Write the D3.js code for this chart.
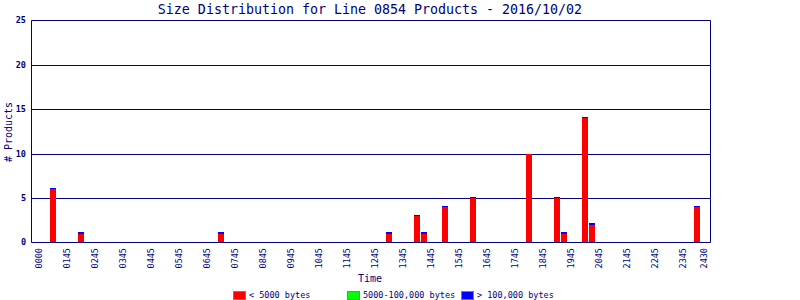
<!DOCTYPE html>
<html>
<head>
<meta charset="utf-8">
<script src="https://cdn.jsdelivr.net/npm/d3@7"></script>
<style>
  body { margin: 0; background: #fff; }
  text { font-family: "DejaVu Sans Mono", monospace; fill: #000080; }
</style>
</head>
<body>
<svg id="chart" width="800" height="300"></svg>
<script>
// 15-minute slots, 96 per day
const binCount = 96;
const barBins    = [2, 6, 26, 50, 54, 55, 58, 62, 70, 74, 75, 78, 79, 94];
const smallFiles = [6, 1, 1, 1, 3, 1, 4, 5, 10, 5, 1, 14, 2, 4];
const mediumFiles = [0, 0, 0, 0, 0, 0, 0, 0, 0, 0, 0, 0, 0, 0];
const largeFiles = [0.15, 0.15, 0.15, 0.15, 0.15, 0.15, 0.15, 0.15, 0, 0.15, 0.15, 0.15, 0.15, 0.15];

const tickBins   = [0, 4, 8, 12, 16, 20, 24, 28, 32, 36, 40, 44, 48, 52, 56, 60, 64, 68, 72, 76, 80, 84, 88, 92, 95];
const tickLabels = ["0000", "0145", "0245", "0345", "0445", "0545", "0645", "0745", "0845", "0945",
                    "1045", "1145", "1245", "1345", "1445", "1545", "1645", "1745", "1845", "1945",
                    "2045", "2145", "2245", "2345", "2430"];
const yTicks = [0, 5, 10, 15, 20, 25];

const seriesNames = ["< 5000 bytes", "5000-100,000 bytes", "> 100,000 bytes"];
const seriesColors = ["#ff0000", "#00ff00", "#0000ff"];

const navy = "#000080";
const svg = d3.select("#chart");
const plot = { left: 31.5, right: 710.5, top: 20.5, bottom: 242.5 };

const x = d3.scaleBand()
    .domain(d3.range(binCount))
    .range([36, 707])
    .paddingInner(1 / 7)
    .paddingOuter(0);

const y = d3.scaleLinear()
    .domain([0, 25])
    .range([plot.bottom, plot.top]);

// build rows for stacking
const rows = barBins.map((b, i) => ({ bin: b, small: smallFiles[i], medium: mediumFiles[i], large: largeFiles[i] }));
const stacked = d3.stack().keys(["small", "medium", "large"])(rows);

// grid lines (inner ones only, the frame draws 0 and 25)
svg.append("g")
    .selectAll("line")
    .data(yTicks.filter(d => d > 0 && d < 25))
    .join("line")
    .attr("x1", plot.left).attr("x2", plot.right)
    .attr("y1", d => Math.round(y(d)) + 0.5).attr("y2", d => Math.round(y(d)) + 0.5)
    .attr("stroke", navy).attr("stroke-width", 1);

// bars, snapped to whole pixels so the thin caps survive
const segTop = d => Math.round(y(d[1]));
const segBottom = d => Math.round(y(d[0]));
svg.append("g")
    .attr("shape-rendering", "crispEdges")
    .selectAll("g")
    .data(stacked)
    .join("g")
    .attr("fill", (d, i) => seriesColors[i])
    .selectAll("rect")
    .data(d => d.filter(s => s[1] > s[0]))
    .join("rect")
    .attr("x", d => x(d.data.bin))
    .attr("y", d => Math.min(segTop(d), segBottom(d) - 1))
    .attr("width", x.bandwidth())
    .attr("height", d => Math.max(1, segBottom(d) - segTop(d)));

// axis frame
svg.append("path")
    .attr("d", `M${plot.left},${plot.bottom}V${plot.top}H${plot.right}V${plot.bottom}H${plot.left}`)
    .attr("fill", "none").attr("stroke", navy).attr("stroke-width", 1);

// y tick labels
svg.append("g")
    .selectAll("text")
    .data(yTicks)
    .join("text")
    .attr("x", 26)
    .attr("y", d => y(d))
    .attr("dy", "0.35em")
    .attr("text-anchor", "end")
    .attr("font-size", 8.5)
    .attr("font-weight", "bold")
    .text(d => d);

// x tick labels (rotated)
svg.append("g")
    .selectAll("text")
    .data(tickBins)
    .join("text")
    .attr("transform", d => `translate(${x(d) + x.bandwidth() / 2},248) rotate(-90)`)
    .attr("dy", "0.35em")
    .attr("text-anchor", "end")
    .attr("font-size", 8.5)
    .text((d, i) => tickLabels[i]);

// title
svg.append("text")
    .attr("x", 370).attr("y", 13.5)
    .attr("text-anchor", "middle")
    .attr("font-size", 13.3)
    .text("Size Distribution for Line 0854 Products - 2016/10/02");

// axis titles
svg.append("text")
    .attr("transform", "translate(8.5,132) rotate(-90)")
    .attr("dy", "0.35em")
    .attr("text-anchor", "middle")
    .attr("font-size", 10)
    .text("# Products");

svg.append("text")
    .attr("x", 370).attr("y", 282)
    .attr("text-anchor", "middle")
    .attr("font-size", 10)
    .text("Time");

// legend
const legendX = [233, 347, 461];
const legend = svg.append("g")
    .selectAll("g")
    .data(seriesNames)
    .join("g")
    .attr("transform", (d, i) => `translate(${legendX[i]},291)`);

legend.append("rect")
    .attr("x", 0.5).attr("y", 0.5)
    .attr("width", 12).attr("height", 8)
    .attr("fill", (d, i) => seriesColors[i])
    .attr("stroke", "#808080");

legend.append("text")
    .attr("x", 16).attr("y", 4.5)
    .attr("dy", "0.35em")
    .attr("font-size", 8.5)
    .text(d => d);
</script>
</body>
</html>
